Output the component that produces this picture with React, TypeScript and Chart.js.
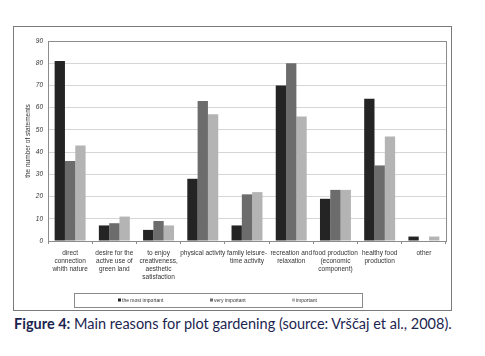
import React, { useEffect, useRef } from "react";
import { Chart, registerables } from "chart.js";
Chart.register(...registerables);

const categories: string[][] = [
  ["direct", "connection", "whith nature"],
  ["desire for the", "active use of", "green land"],
  ["to enjoy", "creativeness,", "aesthetic", "satisfaction"],
  ["physical activity"],
  ["family leisure-", "time activity"],
  ["recreation and", "relaxation"],
  ["food production", "(economic", "component)"],
  ["healthy food", "production"],
  ["other"],
];
const seriesNames = ["the most important", "very important", "important"];
const mostImportant = [81, 7, 5, 28, 7, 70, 19, 64, 2];
const veryImportant = [36, 8, 9, 63, 21, 80, 23, 34, 0];
const important = [43, 11, 7, 57, 22, 56, 23, 47, 2];
const seriesColors = ["#242424", "#6c6c6c", "#b4b4b4"];
const yMin = 0;
const yMax = 90;
const yStep = 10;
const yTitle = "the number of statements";
const captionBold = "Figure 4:";
const captionRest = " Main reasons for plot gardening (source: Vrščaj et al., 2008).";

const FONT = "'Liberation Sans', Arial, sans-serif";

const frameAndLegend = {
  id: "frameAndLegend",
  afterDraw(chart: any) {
    const ctx = chart.ctx;
    const a = chart.chartArea;
    ctx.save();
    ctx.strokeStyle = "#8c8c8c";
    ctx.lineWidth = 1;
    ctx.strokeRect(Math.round(a.left) + 0.5, Math.round(a.top) + 0.5, Math.round(a.right - a.left), Math.round(a.bottom - a.top));
    // legend box
    const bx = 61, by = 267, bw = 288, bh = 14;
    ctx.fillStyle = "#d8d8d8";
    ctx.fillRect(bx + 1, by + 1, bw, bh);
    ctx.fillStyle = "#ffffff";
    ctx.fillRect(bx, by, bw, bh);
    ctx.strokeStyle = "#8a8a8a";
    ctx.strokeRect(bx + 0.5, by + 0.5, bw, bh);
    const itemX = [105, 197, 279];
    ctx.font = "5px " + FONT;
    ctx.textBaseline = "middle";
    chart.data.datasets.forEach((ds: any, i: number) => {
      ctx.fillStyle = ds.backgroundColor;
      ctx.fillRect(itemX[i], by + bh / 2 - 1.5, 3, 3);
      ctx.fillStyle = "#333";
      ctx.fillText(ds.label, itemX[i] + 4, by + bh / 2 + 0.5);
    });
    ctx.restore();
  },
};

export default function App() {
  const ref = useRef<HTMLCanvasElement>(null);
  useEffect(() => {
    if (!ref.current) return;
    const data = [mostImportant, veryImportant, important];
    const chart = new Chart(ref.current, {
      type: "bar",
      data: {
        labels: categories,
        datasets: seriesNames.map((n, i) => ({
          label: n,
          data: data[i],
          backgroundColor: seriesColors[i],
          borderColor: "#1a1a1a",
          borderWidth: 0,
          categoryPercentage: 0.7,
          barPercentage: 1.0,
        })),
      },
      options: {
        animation: false,
        responsive: false,
        maintainAspectRatio: false,
        layout: { padding: { top: 15, right: 5, bottom: 17, left: 0 } },
        plugins: { legend: { display: false }, tooltip: { enabled: false } },
        scales: {
          x: {
            grid: { display: true, drawOnChartArea: false, offset: true, tickLength: 3, color: "#8c8c8c" },
            border: { display: false },
            ticks: {
              padding: 5,
              maxRotation: 0,
              autoSkip: false,
              color: "#333",
              font: { family: FONT, size: 6.5, lineHeight: 1.25 },
            },
            afterFit: (s: any) => { s.height = 52; },
          },
          y: {
            min: yMin,
            max: yMax,
            ticks: {
              stepSize: yStep,
              padding: 5,
              color: "#333",
              font: { family: FONT, size: 6.5, style: "italic" },
            },
            grid: { color: "#d6d6d6", drawTicks: false },
            border: { display: false },
            title: {
              display: true,
              text: yTitle,
              color: "#333",
              font: { family: FONT, size: 6.5 },
              padding: { top: 11, bottom: 0 },
            },
            afterFit: (s: any) => { s.width = 35; },
          },
        },
      },
      plugins: [frameAndLegend],
    });
    return () => chart.destroy();
  }, []);
  return (
    <div style={{ position: "fixed", left: 0, top: 0, width: 485, height: 356, background: "#fff" }}>
      <div style={{ position: "absolute", left: 13, top: 26, width: 439, height: 285, boxSizing: "border-box", border: "1px solid #7a7a7a" }} />
      <canvas ref={ref} width={438} height={284} style={{ position: "absolute", left: 13, top: 26, width: 438, height: 284 }} />
      <div style={{ position: "absolute", left: 14, top: 315, whiteSpace: "nowrap", fontFamily: "Lato, 'Open Sans', sans-serif", fontSize: 14.5, color: "#1b2550" }}>
        <b>{captionBold}</b>{captionRest}
      </div>
    </div>
  );
}
